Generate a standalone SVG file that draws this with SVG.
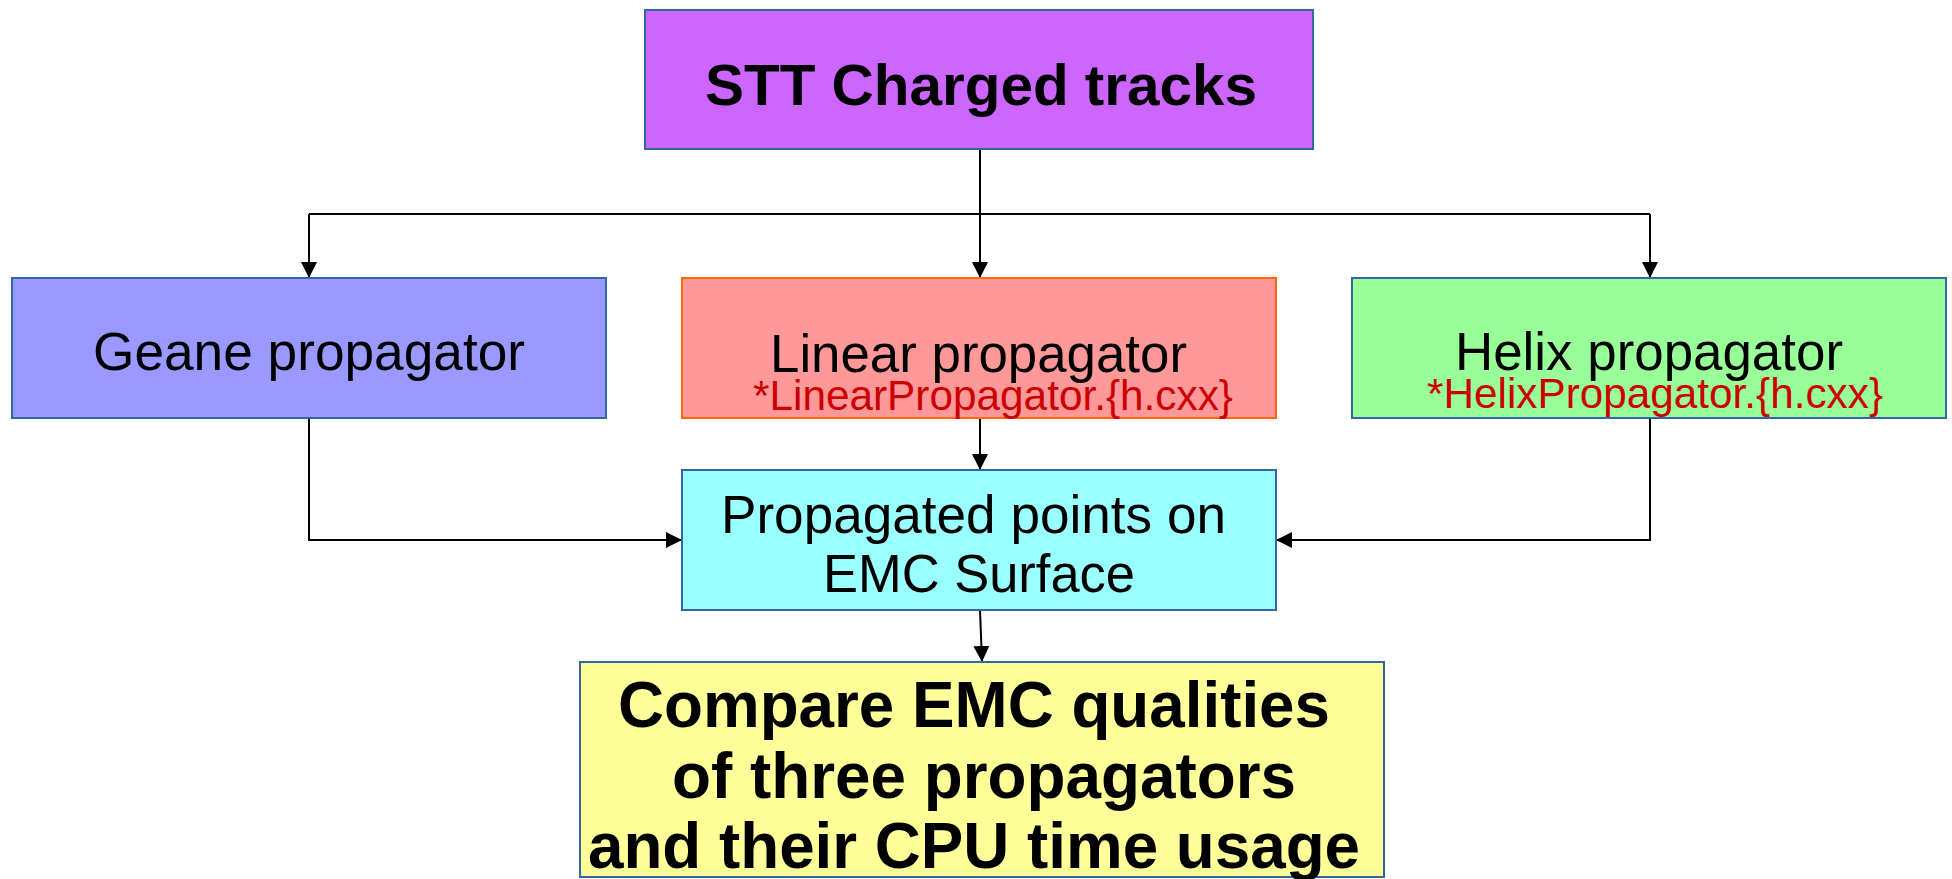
<svg xmlns="http://www.w3.org/2000/svg" width="1952" height="879" viewBox="0 0 1952 879">
<style>
  .box { stroke: #3465a4; stroke-width: 2; }
  .t { font-family: "Liberation Sans", Arial, sans-serif; fill: #000; }
  .big { font-size: 58px; font-weight: bold; }
  .mid { font-size: 53px; }
  .red { font-size: 42px; fill: #cc0000; }
  .cmp { font-size: 64px; font-weight: bold; }
  .conn { stroke: #000; stroke-width: 2; fill: none; }
</style>
<defs>
  <marker id="arr" markerUnits="userSpaceOnUse" markerWidth="16" markerHeight="16" refX="16" refY="8" orient="auto">
    <path d="M0,0 L16,8 L0,16 Z" fill="#000"/>
  </marker>
</defs>
<rect width="1952" height="879" fill="#fff"/>

<g id="connectors">
  <path class="conn" d="M980,149 L980,278" marker-end="url(#arr)"/>
  <path class="conn" d="M309,214 L1650,214"/>
  <path class="conn" d="M309,214 L309,278" marker-end="url(#arr)"/>
  <path class="conn" d="M1650,214 L1650,278" marker-end="url(#arr)"/>
  <path class="conn" d="M980,418 L980,470" marker-end="url(#arr)"/>
  <path class="conn" d="M309,418 L309,540 L682,540" marker-end="url(#arr)"/>
  <path class="conn" d="M1650,418 L1650,540 L1276,540" marker-end="url(#arr)"/>
  <path class="conn" d="M980,610 L982,662" marker-end="url(#arr)"/>
</g>

<g id="stt">
  <rect class="box" x="645" y="10" width="668" height="139" fill="#cc66ff"/>
  <text class="t big" x="705" y="105" textLength="552" lengthAdjust="spacingAndGlyphs">STT Charged tracks</text>
</g>

<g id="geane">
  <rect class="box" x="12" y="278" width="594" height="140" fill="#9999ff"/>
  <text class="t mid" x="93" y="370" textLength="432" lengthAdjust="spacingAndGlyphs">Geane propagator</text>
</g>

<g id="linear">
  <rect x="682" y="278" width="594" height="140" fill="#ff9999" stroke="#ff6600" stroke-width="2"/>
  <text class="t mid" x="770" y="372" textLength="417" lengthAdjust="spacingAndGlyphs">Linear propagator</text>
  <text class="t red" x="753" y="410" textLength="480" lengthAdjust="spacingAndGlyphs">*LinearPropagator.{h.cxx}</text>
</g>

<g id="helix">
  <rect class="box" x="1352" y="278" width="594" height="140" fill="#99ff99"/>
  <text class="t mid" x="1455" y="370" textLength="388" lengthAdjust="spacingAndGlyphs">Helix propagator</text>
  <text class="t red" x="1427" y="408" textLength="456" lengthAdjust="spacingAndGlyphs">*HelixPropagator.{h.cxx}</text>
</g>

<g id="propagated">
  <rect class="box" x="682" y="470" width="594" height="140" fill="#99ffff"/>
  <text class="t mid" x="721" y="533" textLength="505" lengthAdjust="spacingAndGlyphs">Propagated points on</text>
  <text class="t mid" x="823" y="592" textLength="312" lengthAdjust="spacingAndGlyphs">EMC Surface</text>
</g>

<g id="compare">
  <rect class="box" x="580" y="662" width="804" height="215" fill="#ffff99"/>
  <text class="t cmp" x="618" y="727" textLength="712" lengthAdjust="spacingAndGlyphs">Compare EMC qualities</text>
  <text class="t cmp" x="672" y="798" textLength="624" lengthAdjust="spacingAndGlyphs">of three propagators</text>
  <text class="t cmp" x="588" y="868" textLength="772" lengthAdjust="spacingAndGlyphs">and their CPU time usage</text>
</g>
</svg>
